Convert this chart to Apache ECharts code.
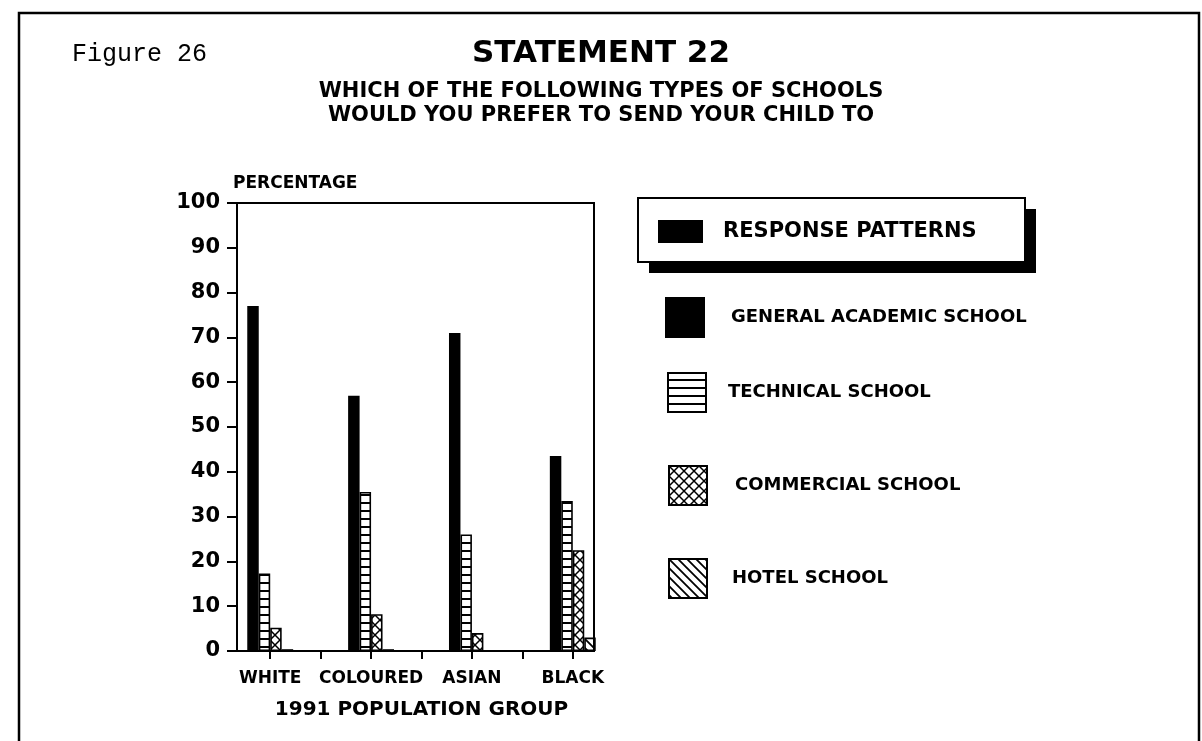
<!DOCTYPE html>
<html>
<head>
<meta charset="utf-8">
<title>Statement 22</title>
<script src="https://cdn.jsdelivr.net/npm/echarts@6/dist/echarts.min.js"></script>
<style>
html, body { margin: 0; padding: 0; background: #fff; }
#chart { width: 1202px; height: 741px; }
</style>
</head>
<body>
<div id="chart"></div>
<script>
// values (percent)
const groups = ['WHITE', 'COLOURED', 'ASIAN', 'BLACK']
const schoolTypes = ['GENERAL ACADEMIC SCHOOL', 'TECHNICAL SCHOOL', 'COMMERCIAL SCHOOL', 'HOTEL SCHOOL']
const general = [77, 57, 71, 43.5]
const technical = [17.3, 35.5, 26, 33.5]
const commercial = [5.2, 8.2, 4, 22.5]
const hotel = [0.4, 0.4, 0, 3]
const yMin = 0
const yMax = 100
const yStep = 10

const FONT = 'DejaVu Sans'

// the original axis has an empty tick between every population group
const slots = []
groups.forEach(function (g, i) {
  if (i > 0) slots.push(' '.repeat(i))
  slots.push(g)
})
function spread(values) {
  const out = []
  values.forEach(function (v, i) {
    if (i > 0) out.push('-')
    out.push(v)
  })
  return out
}

// hatch fills like the old plotter patterns
function makePattern(kind) {
  const s = kind === 'hline' ? 8 : (kind === 'cross' ? 10 : 9)
  const c = document.createElement('canvas')
  c.width = s; c.height = s
  const g = c.getContext('2d')
  g.fillStyle = '#fff'
  g.fillRect(0, 0, s, s)
  g.fillStyle = '#000'
  g.strokeStyle = '#000'
  if (kind === 'hline') {
    g.fillRect(0, s - 2, s, 2)
  } else if (kind === 'cross') {
    g.lineWidth = 1.5
    g.beginPath()
    g.moveTo(-1, -1); g.lineTo(s + 1, s + 1)
    g.moveTo(s + 1, -1); g.lineTo(-1, s + 1)
    g.stroke()
  } else {
    g.lineWidth = 1.8
    g.beginPath()
    g.moveTo(-1, -1); g.lineTo(s + 1, s + 1)
    g.moveTo(s - 2, -2); g.lineTo(s + 2, 2)
    g.moveTo(-2, s - 2); g.lineTo(2, s + 2)
    g.stroke()
  }
  return { image: c, repeat: 'repeat' }
}

const fills = ['#000', makePattern('hline'), makePattern('cross'), makePattern('diag')]
const values = [general, technical, commercial, hotel]

const series = schoolTypes.map(function (name, i) {
  return {
    name: name,
    type: 'bar',
    data: spread(values[i]),
    barGap: '0%',
    barCategoryGap: '9%',
    itemStyle: { color: fills[i], borderColor: '#000', borderWidth: 1.6 }
  }
})

// one legend per entry, the printed spacing is uneven
const legendSpots = [
  { left: 665, top: 297, gap: 22 },
  { left: 667, top: 372, gap: 17 },
  { left: 668, top: 465, gap: 23 },
  { left: 668, top: 558, gap: 20 }
]
const legends = schoolTypes.map(function (name, i) {
  const p = legendSpots[i]
  return {
    data: [name],
    left: p.left, top: p.top,
    padding: 0,
    icon: 'rect',
    itemWidth: 38, itemHeight: 39,
    selectedMode: false,
    textStyle: {
      fontFamily: FONT, fontWeight: 'bold', fontSize: 18, color: '#000',
      padding: [0, 0, 14, p.gap]
    }
  }
})

const titleText = { fontFamily: FONT, fontWeight: 'bold', color: '#000' }

const chart = echarts.init(document.getElementById('chart'), null, { renderer: 'canvas' })
chart.setOption({
  animation: false,
  backgroundColor: '#fff',
  title: [
    {
      text: 'Figure 26', left: 72, top: 42, padding: 0,
      textStyle: { fontFamily: 'Liberation Mono', fontSize: 25, fontWeight: 'normal', color: '#000' }
    },
    {
      text: 'STATEMENT 22', left: 'center', top: 38, padding: 0,
      textStyle: Object.assign({ fontSize: 31 }, titleText)
    },
    {
      text: 'WHICH OF THE FOLLOWING TYPES OF SCHOOLS', left: 'center', top: 81, padding: 0,
      textStyle: Object.assign({ fontSize: 21 }, titleText)
    },
    {
      text: 'WOULD YOU PREFER TO SEND YOUR CHILD TO', left: 'center', top: 105, padding: 0,
      textStyle: Object.assign({ fontSize: 21 }, titleText)
    },
    {
      text: 'PERCENTAGE', left: 233, top: 175, padding: 0,
      textStyle: Object.assign({ fontSize: 17 }, titleText)
    }
  ],
  legend: legends,
  grid: { left: 245, right: 604, top: 203, bottom: 90, containLabel: false },
  xAxis: {
    type: 'category',
    data: slots,
    name: '1991 POPULATION GROUP',
    nameLocation: 'middle',
    nameGap: 49,
    nameTextStyle: { fontFamily: FONT, fontSize: 20, fontWeight: 'bold', color: '#000' },
    axisLine: { show: false },
    axisTick: { show: true, alignWithLabel: true, interval: 0, length: 8, lineStyle: { color: '#000', width: 2 } },
    axisLabel: { interval: 0, margin: 19, fontFamily: FONT, fontSize: 17, fontWeight: 'bold', color: '#000' },
    splitLine: { show: false }
  },
  yAxis: {
    type: 'value',
    min: yMin, max: yMax, interval: yStep,
    offset: 8,
    axisLine: { show: true, lineStyle: { color: '#000', width: 2 } },
    axisTick: { show: true, length: 10, lineStyle: { color: '#000', width: 2 } },
    axisLabel: { margin: 17, fontFamily: FONT, fontSize: 21, fontWeight: 'bold', color: '#000' },
    splitLine: { show: false }
  },
  graphic: [
    // page frame
    {
      type: 'rect', silent: true,
      shape: { x: 19, y: 13, width: 1180, height: 780 },
      style: { fill: 'none', stroke: '#000', lineWidth: 2.5 }
    },
    // plot box
    {
      type: 'rect', silent: true, z: 10,
      shape: { x: 237, y: 203, width: 357, height: 448 },
      style: { fill: 'none', stroke: '#000', lineWidth: 2 }
    },
    // "RESPONSE PATTERNS" heading box with drop shadow
    {
      type: 'group', silent: true,
      children: [
        { type: 'rect', shape: { x: 649, y: 209, width: 387, height: 64 }, style: { fill: '#000' } },
        { type: 'rect', shape: { x: 638, y: 198, width: 387, height: 64 }, style: { fill: '#fff', stroke: '#000', lineWidth: 2 } },
        { type: 'rect', shape: { x: 658, y: 220, width: 45, height: 23 }, style: { fill: '#000' } },
        {
          type: 'text', x: 723, y: 232,
          style: {
            text: 'RESPONSE PATTERNS', fill: '#000',
            font: 'bold 21px "DejaVu Sans"', verticalAlign: 'middle', align: 'left'
          }
        }
      ]
    }
  ],
  series: series
})
</script>
</body>
</html>
